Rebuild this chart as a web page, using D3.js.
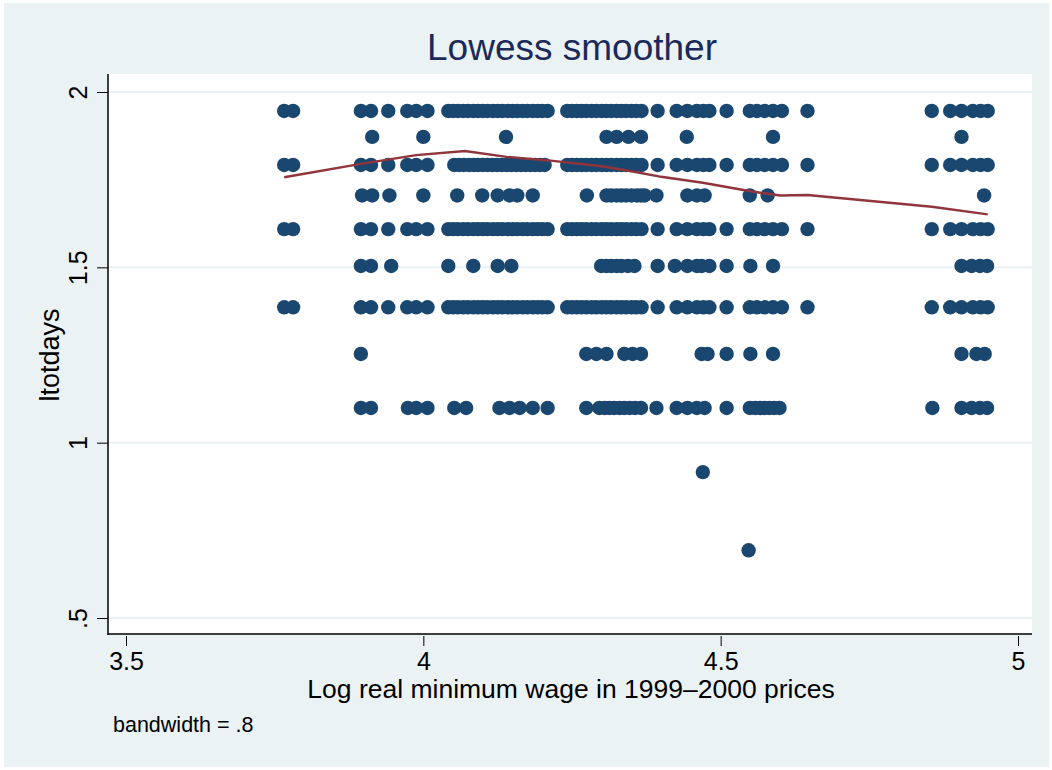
<!DOCTYPE html>
<html>
<head>
<meta charset="utf-8">
<script src="https://d3js.org/d3.v7.min.js"></script>
<style>
body { margin: 0; background: #ffffff; }
text { font-family: "Liberation Sans", Arial, Helvetica, sans-serif; }
</style>
</head>
<body>
<svg id="chart" width="1052" height="770"></svg>
<script>
// y levels (ltotdays) and the x values (log real min wage) seen on each row
const yLevels = [1.946, 1.872, 1.792, 1.705, 1.609, 1.504, 1.386, 1.253, 1.099, 0.916, 0.693];

const xRow1946 = [3.766, 3.781, 3.895, 3.912, 3.941, 3.973, 3.988, 4.007,
  4.042, 4.050, 4.058, 4.067, 4.075, 4.084, 4.092, 4.100, 4.108, 4.117, 4.125, 4.133, 4.142, 4.150,
  4.158, 4.167, 4.175, 4.184, 4.192, 4.200, 4.209,
  4.242, 4.250, 4.258, 4.266, 4.274, 4.283, 4.291, 4.300, 4.308, 4.316, 4.325, 4.333, 4.341, 4.350,
  4.358, 4.367, 4.394, 4.426, 4.444, 4.460, 4.471, 4.481, 4.510, 4.549, 4.561, 4.574, 4.588, 4.603, 4.646,
  4.855, 4.886, 4.905, 4.924, 4.937, 4.949];
const xRow1872 = [3.914, 4.0, 4.139, 4.308, 4.325, 4.345, 4.366, 4.443, 4.588, 4.905];
const xRow1792 = [3.766, 3.781, 3.895, 3.912, 3.941, 3.973, 3.988, 4.007,
  4.052, 4.060, 4.068, 4.077, 4.085, 4.092, 4.100, 4.108, 4.116, 4.124, 4.132, 4.140, 4.148, 4.156,
  4.164, 4.172, 4.180, 4.188, 4.196, 4.204,
  4.242, 4.250, 4.258, 4.266, 4.274, 4.283, 4.291, 4.300, 4.308, 4.316, 4.325, 4.333, 4.341, 4.350,
  4.358, 4.367, 4.394, 4.426, 4.444, 4.460, 4.471, 4.481, 4.510, 4.549, 4.561, 4.574, 4.588, 4.603, 4.646,
  4.855, 4.886, 4.905, 4.924, 4.937, 4.949];
const xRow1705 = [3.897, 3.914, 3.943, 4.0, 4.057, 4.099, 4.125, 4.145, 4.158, 4.184, 4.275,
  4.308, 4.316, 4.325, 4.333, 4.341, 4.350, 4.359, 4.366, 4.372, 4.392, 4.444, 4.460, 4.473,
  4.549, 4.579, 4.943];
const xRow1609 = [3.766, 3.781, 3.895, 3.912, 3.941, 3.973, 3.988, 4.007,
  4.042, 4.050, 4.058, 4.067, 4.075, 4.084, 4.092, 4.100, 4.108, 4.117, 4.125, 4.133, 4.142, 4.150,
  4.158, 4.167, 4.175, 4.184, 4.192, 4.200, 4.209,
  4.242, 4.250, 4.258, 4.266, 4.274, 4.283, 4.291, 4.300, 4.308, 4.316, 4.325, 4.333, 4.341, 4.350,
  4.358, 4.367, 4.394, 4.426, 4.444, 4.460, 4.471, 4.481, 4.510, 4.549, 4.561, 4.574, 4.588, 4.603, 4.646,
  4.855, 4.886, 4.905, 4.924, 4.937, 4.949];
const xRow1504 = [3.895, 3.912, 3.946, 4.042, 4.084, 4.125, 4.148, 4.299, 4.308, 4.316, 4.325, 4.333,
  4.344, 4.355, 4.394, 4.423, 4.444, 4.460, 4.468, 4.481, 4.510, 4.550, 4.588, 4.905, 4.922, 4.936, 4.948];
const xRow1386 = [3.766, 3.781, 3.895, 3.912, 3.941, 3.973, 3.988, 4.007,
  4.042, 4.050, 4.058, 4.067, 4.075, 4.084, 4.092, 4.100, 4.108, 4.117, 4.125, 4.133, 4.142, 4.150,
  4.158, 4.167, 4.175, 4.184, 4.192, 4.200, 4.209,
  4.242, 4.250, 4.258, 4.266, 4.274, 4.283, 4.291, 4.300, 4.308, 4.316, 4.325, 4.333, 4.341, 4.350,
  4.358, 4.367, 4.394, 4.426, 4.444, 4.460, 4.471, 4.481, 4.510, 4.549, 4.561, 4.574, 4.588, 4.603, 4.646,
  4.855, 4.886, 4.905, 4.924, 4.937, 4.949];
const xRow1253 = [3.895, 4.274, 4.291, 4.308, 4.338, 4.352, 4.366, 4.468, 4.478, 4.510, 4.550, 4.588,
  4.905, 4.930, 4.944];
const xRow1099 = [3.895, 3.912, 3.974, 3.988, 4.007, 4.052, 4.072, 4.128, 4.145, 4.162, 4.184, 4.209, 4.274,
  4.296, 4.305, 4.313, 4.321, 4.330, 4.338, 4.347, 4.356, 4.366, 4.392, 4.426, 4.444, 4.460, 4.473, 4.510,
  4.549, 4.558, 4.566, 4.574, 4.582, 4.590, 4.599,
  4.856, 4.905, 4.922, 4.936, 4.948];
const xRow0916 = [4.470];
const xRow0693 = [4.547];

const xRows = [xRow1946, xRow1872, xRow1792, xRow1705, xRow1609, xRow1504, xRow1386, xRow1253, xRow1099, xRow0916, xRow0693];

// lowess fit
const lowessX = [3.766, 3.895, 3.988, 4.07, 4.14, 4.21, 4.30, 4.35, 4.40, 4.47, 4.55, 4.60, 4.646, 4.855, 4.949];
const lowessY = [1.757, 1.795, 1.820, 1.832, 1.815, 1.805, 1.788, 1.774, 1.758, 1.741, 1.717, 1.705, 1.706, 1.673, 1.651];

const xTicks = [3.5, 4, 4.5, 5];
const xTickLabels = ["3.5", "4", "4.5", "5"];
const yTicks = [0.5, 1, 1.5, 2];
const yTickLabels = [".5", "1", "1.5", "2"];

const svg = d3.select("#chart");
const plot = {left: 108, right: 1032, top: 74, bottom: 634};

const x = d3.scaleLinear().domain([3.5, 5]).range([126, 1018]);
const y = d3.scaleLinear().domain([0.5, 2]).range([618, 92]);

// background + plot region
svg.append("rect").attr("x", 4).attr("y", 3).attr("width", 1045).attr("height", 764).attr("fill", "#eaf2f3");
svg.append("rect").attr("x", plot.left).attr("y", plot.top)
  .attr("width", plot.right - plot.left).attr("height", plot.bottom - plot.top).attr("fill", "#ffffff");

// gridlines
svg.append("g").selectAll("line").data(yTicks).enter().append("line")
  .attr("x1", plot.left).attr("x2", plot.right)
  .attr("y1", d => y(d)).attr("y2", d => y(d))
  .attr("stroke", "#eaf2f3").attr("stroke-width", 2);

// points
const pts = [];
xRows.forEach((row, i) => row.forEach(v => pts.push({x: v, y: yLevels[i]})));
svg.append("g").selectAll("circle").data(pts).enter().append("circle")
  .attr("cx", d => x(d.x)).attr("cy", d => y(d.y)).attr("r", 7.2)
  .attr("fill", "#1a476f");

// lowess line
const line = d3.line().x(d => x(d[0])).y(d => y(d[1]));
svg.append("path").datum(lowessX.map((v, i) => [v, lowessY[i]]))
  .attr("d", line).attr("fill", "none").attr("stroke", "#90353b").attr("stroke-width", 2.5);

// axes
const xAxis = svg.append("g").attr("transform", "translate(0," + (plot.bottom + 2) + ")")
  .call(d3.axisBottom(x).tickValues(xTicks).tickSize(10).tickPadding(6)
    .tickFormat((d, i) => xTickLabels[i]));
xAxis.select(".domain").remove();
xAxis.selectAll("text").attr("font-size", 25).attr("fill", "#000");

const yAxis = svg.append("g").attr("transform", "translate(" + plot.left + ",0)")
  .call(d3.axisLeft(y).tickValues(yTicks).tickSize(11).tickFormat((d, i) => yTickLabels[i]));
yAxis.select(".domain").remove();
yAxis.selectAll("text")
  .attr("font-size", 25).attr("fill", "#000")
  .attr("text-anchor", "middle").attr("dy", null).attr("x", null)
  .attr("transform", "translate(-21,0) rotate(-90)");

svg.append("line").attr("x1", plot.left).attr("x2", plot.left).attr("y1", plot.top).attr("y2", plot.bottom + 1)
  .attr("stroke", "#000").attr("stroke-width", 1.5);
svg.append("line").attr("x1", plot.left).attr("x2", plot.right).attr("y1", plot.bottom).attr("y2", plot.bottom)
  .attr("stroke", "#000").attr("stroke-width", 1.5);

// titles
svg.append("text").attr("x", 572).attr("y", 60).attr("text-anchor", "middle")
  .attr("font-size", 37).attr("fill", "#1c2a5a").text("Lowess smoother");

svg.append("text").attr("x", 571).attr("y", 698).attr("text-anchor", "middle")
  .attr("font-size", 26.5).attr("fill", "#000").text("Log real minimum wage in 1999\u20132000 prices");

svg.append("text").attr("transform", "translate(59,355) rotate(-90)").attr("text-anchor", "middle")
  .attr("font-size", 27).attr("fill", "#000").text("ltotdays");

svg.append("text").attr("x", 113).attr("y", 732)
  .attr("font-size", 21.5).attr("fill", "#000").text("bandwidth = .8");
</script>
</body>
</html>
